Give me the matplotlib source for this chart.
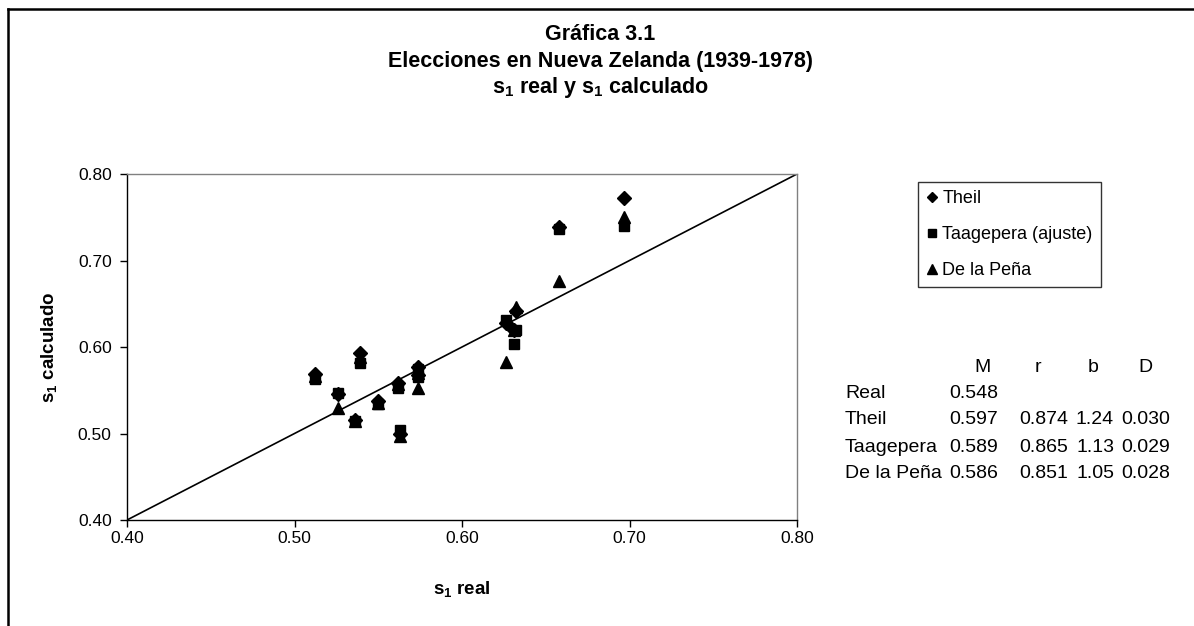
import matplotlib
matplotlib.use('Agg')
import matplotlib.pyplot as plt
from matplotlib.lines import Line2D

plt.rcParams['font.family'] = ['Liberation Sans', 'DejaVu Sans']

# s1 real de cada eleccion y los tres calculos
s1_real = [0.512, 0.526, 0.536, 0.539, 0.550, 0.562, 0.563, 0.574, 0.574,
           0.626, 0.631, 0.632, 0.658, 0.697]
theil = [0.569, 0.546, 0.516, 0.593, 0.537, 0.558, 0.500, 0.577, 0.568,
         0.628, 0.620, 0.642, 0.739, 0.772]
taagepera = [0.563, 0.547, 0.515, 0.582, 0.534, 0.553, 0.504, 0.575, 0.565,
             0.631, 0.603, 0.620, 0.736, 0.740]
de_la_pena = [0.566, 0.530, 0.514, 0.588, 0.535, 0.557, 0.497, 0.553, 0.570,
              0.583, 0.620, 0.646, 0.676, 0.750]

ticks = [0.40, 0.50, 0.60, 0.70, 0.80]
tabla_cols = ['M', 'r', 'b', 'D']
tabla_filas = ['Real', 'Theil', 'Taagepera', 'De la Peña']
tabla_vals = [['0.548', '', '', ''],
              ['0.597', '0.874', '1.24', '0.030'],
              ['0.589', '0.865', '1.13', '0.029'],
              ['0.586', '0.851', '1.05', '0.028']]

W, H = 1194, 626
fig = plt.figure(figsize=(W / 100, H / 100), dpi=100, facecolor='white')

# marco exterior (solo arriba e izquierda visibles)
fig.add_artist(Line2D([8 / W, 1.0], [1 - 9 / H, 1 - 9 / H], color='black', lw=1.8,
                      transform=fig.transFigure))
fig.add_artist(Line2D([8 / W, 8 / W], [1 - 9 / H, 0.0], color='black', lw=1.8,
                      transform=fig.transFigure))

ax = fig.add_axes([127 / W, 1 - 520 / H, (797 - 127) / W, (520 - 174) / H])
ax.set_xlim(0.40, 0.80)
ax.set_ylim(0.40, 0.80)
ax.set_xticks(ticks)
ax.set_yticks(ticks)
ax.set_xticklabels([f'{t:.2f}' for t in ticks])
ax.set_yticklabels([f'{t:.2f}' for t in ticks])
ax.tick_params(direction='out', length=5, width=1, labelsize=12.5)
ax.tick_params(axis='x', pad=3)
ax.tick_params(axis='y', pad=6)

for s in ['top', 'right']:
    ax.spines[s].set_color('#808080')
    ax.spines[s].set_linewidth(1)
for s in ['left', 'bottom']:
    ax.spines[s].set_color('black')
    ax.spines[s].set_linewidth(1)

# recta s1 calculado = s1 real
ax.plot([0.40, 0.80], [0.40, 0.80], color='black', lw=1.2, zorder=2)

ax.plot(s1_real, theil, linestyle='none', marker='D', ms=7, color='black',
        label='Theil', zorder=3, clip_on=False)
ax.plot(s1_real, taagepera, linestyle='none', marker='s', ms=7.5, color='black',
        label='Taagepera (ajuste)', zorder=3, clip_on=False)
ax.plot(s1_real, de_la_pena, linestyle='none', marker='^', ms=8.5, color='black',
        label='De la Peña', zorder=3, clip_on=False)

ax.set_xlabel('s$_\\mathregular{1}$ real', fontsize=13.5, fontweight='bold', labelpad=24)
ax.set_ylabel('s$_\\mathregular{1}$ calculado', fontsize=13.5, fontweight='bold', labelpad=13)

fig.text(600 / W, 1 - 35 / H, 'Gráfica 3.1', ha='center', va='center',
         fontsize=15.5, fontweight='bold')
fig.text(600 / W, 1 - 62 / H, 'Elecciones en Nueva Zelanda (1939-1978)', ha='center',
         va='center', fontsize=15.5, fontweight='bold')
fig.text(600 / W, 1 - 88 / H, 's$_\\mathregular{1}$ real y s$_\\mathregular{1}$ calculado',
         ha='center', va='center', fontsize=15.5, fontweight='bold')

leg = fig.legend(loc='upper left', bbox_to_anchor=(918 / W, 1 - 182 / H), fontsize=13,
                 frameon=True, fancybox=False, edgecolor='black', handlelength=0.6,
                 handletextpad=0.3, labelspacing=1.05, borderpad=0.45, borderaxespad=0,
                 markerscale=0.8)
leg.get_frame().set_linewidth(1)

# tabla de estadisticos
col_x = [982, 1038, 1093, 1145]
fila_y = [393, 420, 447, 473]
for cx, c in zip(col_x, tabla_cols):
    fig.text(cx / W, 1 - 367 / H, c, ha='center', va='center', fontsize=14)
val_right = [998, 1068, 1114, 1170]
for fy, nombre, vals in zip(fila_y, tabla_filas, tabla_vals):
    fig.text(845 / W, 1 - fy / H, nombre, ha='left', va='center', fontsize=14)
    for vx, v in zip(val_right, vals):
        if v:
            fig.text(vx / W, 1 - fy / H, v, ha='right', va='center', fontsize=14)

fig.savefig('out.png', dpi=100, facecolor='white')
